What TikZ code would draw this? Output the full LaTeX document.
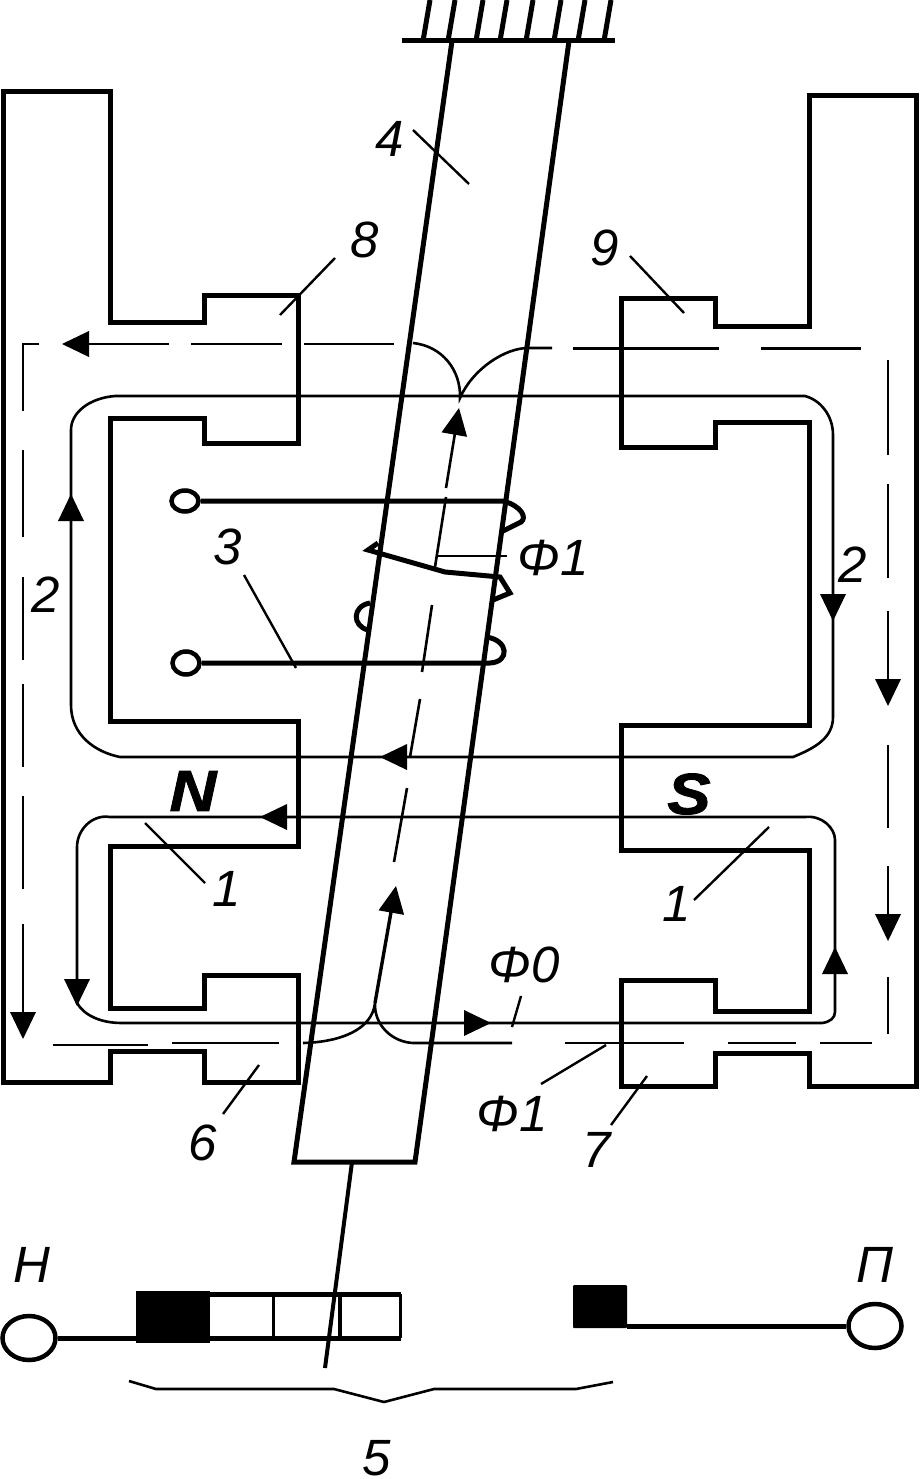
\documentclass[tikz,border=0pt]{standalone}
\usepackage{fontspec}
\setmainfont{Liberation Sans}
\usetikzlibrary{shapes.geometric}
\tikzset{
  core/.style={line width=5pt,line join=miter},
  heavy/.style={line width=5pt},
  flux/.style={line width=2.6pt},
  fluxheavy/.style={line width=3.4pt},
  dashpart/.style={line width=2.8pt},
  leader/.style={line width=2.4pt},
  lbl/.style={inner sep=0pt,font=\fontsize{51}{51}\selectfont\itshape},
  pole/.style={inner sep=0pt,font=\fontsize{58}{58}\selectfont\bfseries\itshape\addfontfeatures{FakeBold=1.5,FakeStretch=1.12}},
  terminal/.style={ellipse,draw,line width=4.5pt,inner sep=0pt,fill=white},
}
\newcommand{\tipmark}[3]{\fill[shift={(#1,#2)},rotate=#3] (0,0)--(-27,-13)--(-27,13)--cycle;}
\begin{document}
\begin{tikzpicture}[x=1pt,y=-1pt]
\useasboundingbox (0,0) rectangle (919,1479);
\fill[white] (0,0) rectangle (919,1479);

% left magnet
\draw[core] (3,92)--(110,92)--(110,322)--(204,322)--(204,295)--(298,295)--(298,443)--(204,443)--(204,418)--(110,418)
  --(110,721)--(298,721)--(298,846)--(110,846)--(110,1008)--(204,1008)--(204,975)--(298,975)--(298,1082)--(204,1082)
  --(204,1051)--(110,1051)--(110,1082)--(3,1082)--cycle;
% right magnet
\draw[core] (809,96)--(916.5,96)--(916.5,1086)--(809,1086)--(809,1053)--(715,1053)--(715,1086)--(621,1086)--(621,980)--(715,980)
  --(715,1011)--(809,1011)--(809,850)--(621,850)--(621,725)--(809,725)--(809,422)--(715,422)--(715,447)--(621,447)
  --(621,298)--(715,298)--(715,326)--(809,326)--cycle;

% armature
\draw[core] (452,41)--(294,1162)--(415,1162)--(569,41);
\draw[heavy] (402,41)--(615,41);
\foreach \hx in {423,448,476,500,526,554,578,604}
  \draw[heavy] (\hx,41)--(\hx+7,0);
\draw[line width=4pt] (352,1162)--(325,1368);

% coil and terminals
\node[terminal,minimum width=27pt,minimum height=21pt] (ta) at (185,501) {};
\node[terminal,minimum width=27pt,minimum height=23pt] (tb) at (186,663) {};
\draw[heavy] (ta.east)--(503,501) .. controls (522,506) and (527,518) .. (521,522) -- (503,531);
\draw[heavy] (tb.east)--(490,663) .. controls (510,662) and (509,640) .. (486,637);
\draw[heavy] (378,543)--(368,550)--(445,572)--(500,577)--(510,593)--(493,600);
\draw[heavy] (370,603) .. controls (352,606) and (352,626) .. (368,630);

% upper flux loop
\draw[flux] (460,396)--(115,396) .. controls (90,398) and (71,412) .. (71,430)--(71,705)
  .. controls (71,735) and (95,752) .. (120,757)--(793,757)
  .. controls (815,748) and (833,738) .. (833,717)--(833,435)
  .. controls (833,415) and (820,400) .. (805,396)--(460,396);
\tipmark{71}{494}{90}
\tipmark{833}{621}{270}
\tipmark{380}{757}{180}

% lower flux loop
\draw[flux] (805,817)--(110,817) .. controls (92,814) and (77,830) .. (77,847)--(77,1003)
  .. controls (84,1015) and (100,1023) .. (122,1023)--(822,1023) .. controls (830,1022) and (835,1018) .. (835,1012)--(835,840)
  .. controls (835,828) and (822,815) .. (805,817);
\tipmark{260}{817}{180}
\tipmark{77}{1006}{270}
\tipmark{835}{947}{90}
\tipmark{491}{1023}{0}

% outer dashed flux
\draw[dashpart] (39,344)--(23,344)--(23,411);
\foreach \ya/\yb in {450/537,577/660,684/767,796/889,924/1015}
  \draw[dashpart] (23,\ya)--(23,\yb);
\tipmark{23}{1039}{270}
\tipmark{62}{344}{180}
\foreach \xa/\xb in {88/169,191/282,304/394}
  \draw[dashpart] (\xa,344)--(\xb,344);
\draw[flux] (413,343) .. controls (442,346) and (461,370) .. (460,398)
  .. controls (472,370) and (505,347) .. (530,348) -- (552,348);
\foreach \xa/\xb in {573/719,761/861}
  \draw[dashpart] (\xa,348.5)--(\xb,348.5);
\foreach \ya/\yb in {360/455,484/578,611/682,745/828,866/917,977/1034}
  \draw[dashpart] (888,\ya)--(888,\yb);
\tipmark{888}{706}{270}
\tipmark{888}{941}{270}
\foreach \xa/\xb in {565/684,728/796,820/872}
  \draw[dashpart] (\xa,1043)--(\xb,1043);
\draw[dashpart] (53,1045)--(148,1045);
\draw[dashpart] (172,1043)--(279,1043);

% central flux through armature
\draw[flux] (303,1043) .. controls (340,1042) and (372,1030) .. (375,1003)
  .. controls (374,1025) and (392,1042) .. (413,1043) -- (512,1043);
\draw[fluxheavy] (375,1003)--(391,912);
\tipmark{396}{886}{80}
\draw[flux] (407,788)--(394,862);
\draw[flux] (420,699)--(410,757);
\draw[flux] (432,605)--(422,672);
\draw[flux] (446,497)--(435,567);
\draw[flux] (455,433)--(446,488);
\tipmark{459}{408}{80}

% leaders
\draw[leader] (280,315)--(335,258);
\draw[leader] (630,256)--(684,313);
\draw[leader] (413,130)--(469,184);
\draw[leader] (244,575)--(296,668);
\draw[leader] (145,823)--(205,883);
\draw[leader] (769,827)--(694,900);
\draw[leader] (521,996)--(512,1027);
\draw[leader] (606,1045)--(541,1084);
\draw[leader] (647,1076)--(611,1125);
\draw[leader] (259,1065)--(223,1114);
\draw[leader] (438,556)--(507,556);

% contacts
\node[terminal,minimum width=53pt,minimum height=44pt] (h) at (29,1338) {};
\node[terminal,minimum width=53pt,minimum height=44pt] (p) at (875,1326) {};
\fill (136,1291) rectangle (210,1343);
\coordinate (blockA) at (136,1338);
\draw[heavy] (h.east)--(blockA);
\draw[line width=5pt] (210,1294)--(401,1294);
\draw[line width=5pt] (210,1338)--(401,1338);
\draw[line width=3pt] (273,1294)--(273,1338);
\draw[line width=4pt] (340,1294)--(340,1338);
\draw[line width=3pt] (400,1294)--(400,1338);
\fill[rounded corners=1pt] (573,1285) rectangle (627,1328);
\coordinate (blockB) at (627,1326);
\draw[heavy] (blockB)--(p.west);

% brace
\draw[line width=2.6pt] (129,1381)--(156,1389)--(334,1389)--(384,1402)--(434,1389)--(576,1389)--(613,1382);

% labels
\node[lbl] (l4) at (390,139) {4};
\node[lbl] (l8) at (365,240) {8};
\node[lbl] (l9) at (605,248) {9};
\node[lbl] (l3) at (228,547) {3};
\node[lbl] (l2a) at (46,595) {2};
\node[lbl] (l2b) at (853,565) {2};
\node[lbl] (lf1a) at (553,558) {Φ1};
\node[lbl] (lf0) at (524,965) {Φ0};
\node[lbl] (lf1b) at (512,1114) {Φ1};
\node[lbl] (l1a) at (227,889) {1};
\node[lbl] (l1b) at (677,904) {1};
\node[lbl] (l6) at (203,1143) {6};
\node[lbl] (l7) at (597,1150) {7};
\node[lbl] (l5) at (377,1458) {5};
\node[lbl] (lh) at (32,1265) {Н};
\node[lbl] (lp) at (875,1265) {П};
\node[pole] (ln) at (193,791) {N};
\node[pole] (ls) at (689,794) {S};
\end{tikzpicture}
\end{document}
